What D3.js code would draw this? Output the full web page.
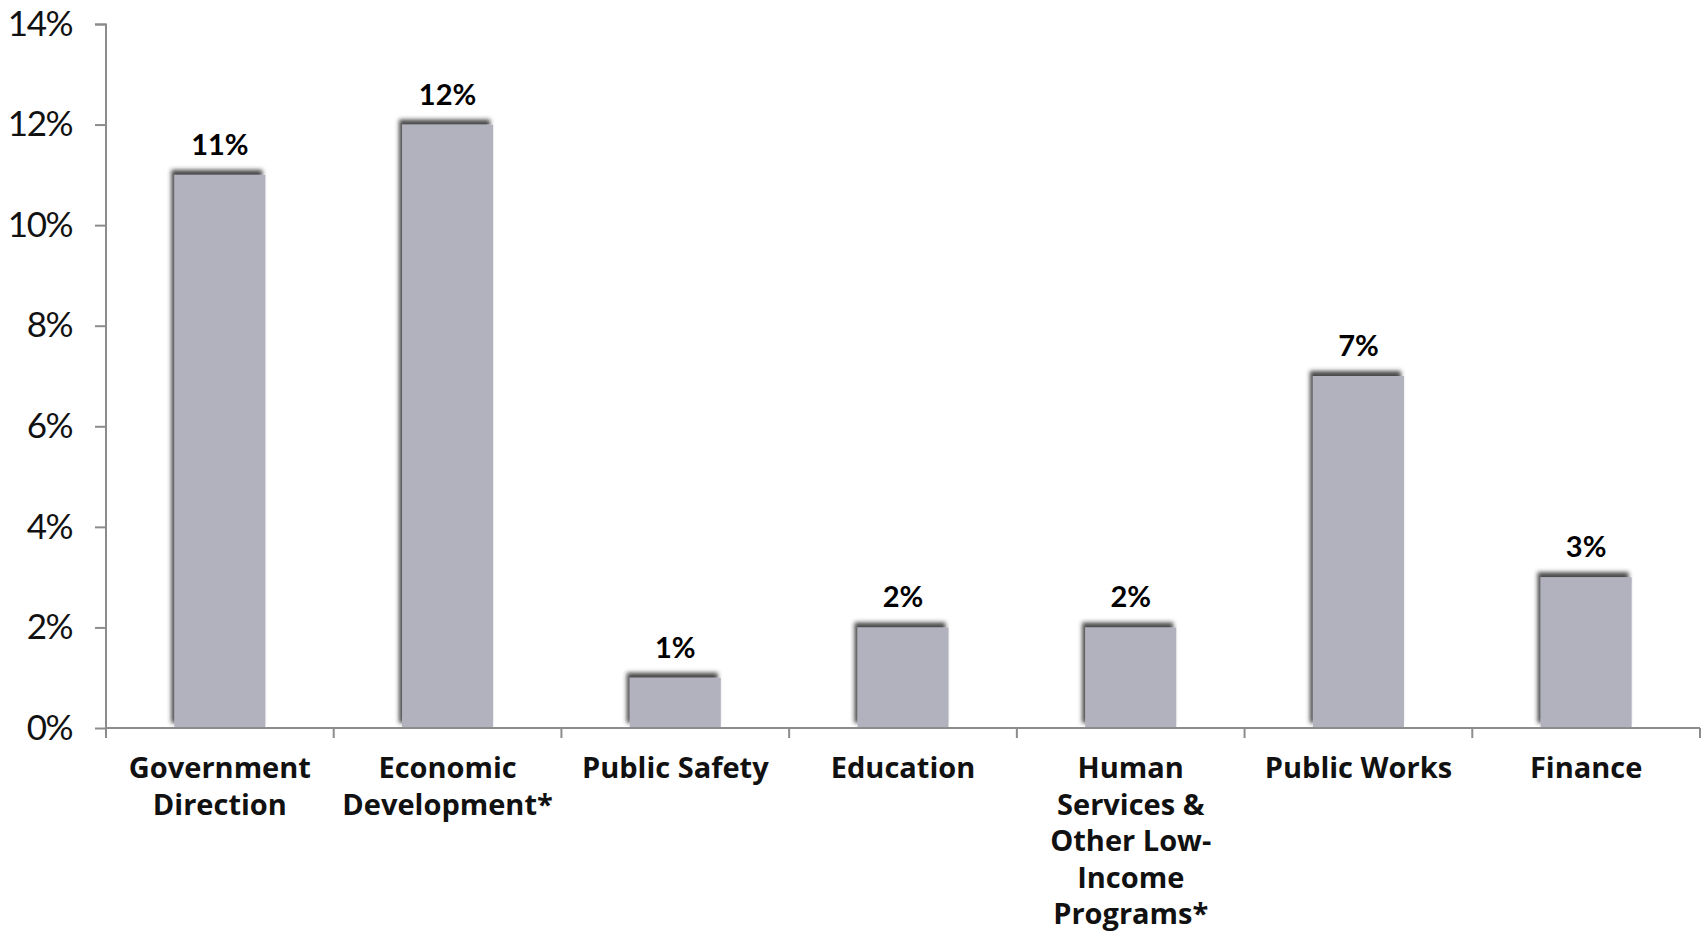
<!DOCTYPE html>
<html>
<head>
<meta charset="utf-8">
<script src="https://cdn.jsdelivr.net/npm/d3@7"></script>
<style>
  body { margin: 0; background: #fff; }
  svg { display: block; }
</style>
</head>
<body>
<div id="chart"></div>
<script>
// values (percent)
const categories = [
  ['Government', 'Direction'],
  ['Economic', 'Development*'],
  ['Public Safety'],
  ['Education'],
  ['Human', 'Services &', 'Other Low-', 'Income', 'Programs*'],
  ['Public Works'],
  ['Finance']
]
const values = [11, 12, 1, 2, 2, 7, 3]
const yTicks = [0, 2, 4, 6, 8, 10, 12, 14]

const W = 1708, H = 932
const margin = {top: 24, right: 8, bottom: 204, left: 106}
const width = W - margin.left - margin.right
const height = H - margin.top - margin.bottom

const x = d3.scaleBand()
  .domain(d3.range(categories.length))
  .range([0, width])
  .paddingInner(0.6)
  .paddingOuter(0.3)

const y = d3.scaleLinear()
  .domain([0, 14])
  .range([height, 0])

const svg = d3.select('#chart').append('svg')
  .attr('width', W)
  .attr('height', H)

const defs = svg.append('defs')
defs.append('filter')
  .attr('id', 'shadow')
  .attr('x', '-20%').attr('y', '-20%')
  .attr('width', '140%').attr('height', '140%')
  .append('feDropShadow')
  .attr('dx', -3).attr('dy', -5)
  .attr('stdDeviation', 2)
  .attr('flood-color', '#2a2a2a')
  .attr('flood-opacity', 0.85)

const main = svg.append('g')
  .attr('transform', `translate(${margin.left},${margin.top})`)

// bars
main.selectAll('rect.bar')
  .data(values)
  .enter().append('rect')
  .attr('class', 'bar')
  .attr('x', (d, i) => x(i))
  .attr('y', d => y(d))
  .attr('width', x.bandwidth())
  .attr('height', d => height - y(d))
  .attr('fill', '#b2b2be')
  .attr('filter', 'url(#shadow)')

// value labels
main.selectAll('text.val')
  .data(values)
  .enter().append('text')
  .attr('class', 'val')
  .attr('x', (d, i) => x(i) + x.bandwidth() / 2)
  .attr('y', d => y(d) - 20)
  .attr('text-anchor', 'middle')
  .style('font-family', 'Lato, sans-serif')
  .style('font-weight', 'bold')
  .style('font-size', '29px')
  .text(d => d + '%')

// y axis
const yAxis = d3.axisLeft(y)
  .tickValues(yTicks)
  .tickFormat(d => d + '%')
  .tickSize(11)
  .tickPadding(23)

const yg = main.append('g').call(yAxis)
yg.select('.domain').attr('stroke', '#8c8c8c').attr('stroke-width', 2)
  .attr('d', `M-11,0.5H0V${height}`)
yg.selectAll('.tick line').attr('stroke', '#8c8c8c').attr('stroke-width', 2)
yg.selectAll('.tick text')
  .style('font-family', 'Lato, sans-serif')
  .style('font-size', '35px')
  .style('letter-spacing', '-1.5px')
  .attr('fill', '#111')

// x axis line with ticks at category boundaries
const bounds = d3.range(categories.length + 1).map(i => i * width / categories.length)
const xg = main.append('g').attr('transform', `translate(0,${height})`)
xg.append('line')
  .attr('x1', 0).attr('x2', width)
  .attr('stroke', '#8c8c8c').attr('stroke-width', 2)
xg.selectAll('line.tk')
  .data(bounds)
  .enter().append('line')
  .attr('class', 'tk')
  .attr('x1', d => d).attr('x2', d => d)
  .attr('y1', 0).attr('y2', 10)
  .attr('stroke', '#8c8c8c').attr('stroke-width', 2)

// category labels
const lab = xg.selectAll('text.cat')
  .data(categories)
  .enter().append('text')
  .attr('class', 'cat')
  .attr('text-anchor', 'middle')
  .attr('transform', (d, i) => `translate(${x(i) + x.bandwidth() / 2},50)`)
  .style('font-family', '"Open Sans", sans-serif')
  .style('font-weight', 'bold')
  .style('font-size', '29px')
  .attr('fill', '#111')

lab.selectAll('tspan')
  .data(d => d)
  .enter().append('tspan')
  .attr('x', 0)
  .attr('y', (d, i) => i * 36.5)
  .text(d => d)
</script>
</body>
</html>
